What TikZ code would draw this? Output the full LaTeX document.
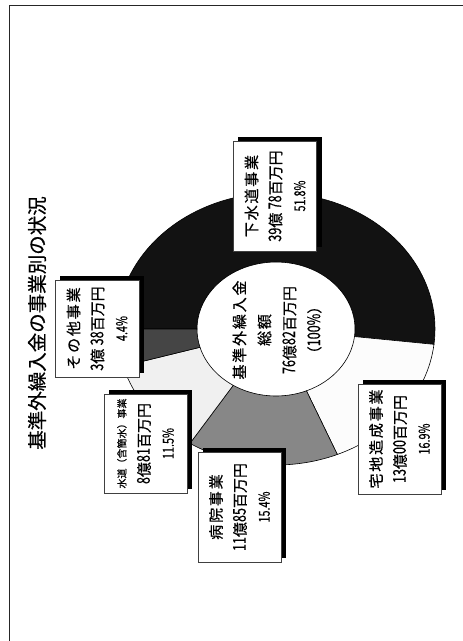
\documentclass[tikz,border=0pt]{standalone}
\usepackage{fontspec}
\setmainfont{Noto Sans CJK JP}[FakeBold=0.5]
\newfontfamily\spfont{Noto Sans CJK JP}[LetterSpace=12, FakeBold=0.5]
\newfontfamily\dgfont{Noto Sans CJK JP}[FakeStretch=0.72, FakeBold=0.4]
\newcommand\dg[1]{{\dgfont\fontsize{17.5}{20}\selectfont #1}}
\newcommand\pc[1]{{\dgfont\fontsize{15}{18}\selectfont #1}}
\usetikzlibrary{backgrounds}
\definecolor{cSewer}{gray}{0.07}
\definecolor{cLand}{gray}{0.99}
\definecolor{cHosp}{gray}{0.53}
\definecolor{cWater}{gray}{0.94}
\definecolor{cOther}{gray}{0.27}
\newcommand\donutslice[3]{%
  \filldraw[fill=#3, draw=black, line width=0.6pt]
    ({276+159*cos(#1)},{329+136*sin(#1)})
    arc[start angle=#1, end angle=#2, x radius=159, y radius=136]
    -- ({276+79*cos(#2)},{329+67*sin(#2)})
    arc[start angle=#2, end angle=#1, x radius=79, y radius=67]
    -- cycle;}
\begin{document}
\begin{tikzpicture}[x=1pt,y=-1pt,
  lbl/.style={draw=black!75, line width=0.6pt, fill=white, rotate=90,
    align=center, inner sep=0pt, minimum height=83pt,
    font=\fontsize{15}{24}\selectfont},
  frameline/.style={draw=black!85, line width=1.4pt}]
\useasboundingbox (0,0) rectangle (463,641);
\draw[frameline] (9.5,650) -- (9.5,5.5) -- (470,5.5);

\begin{scope}[on background layer]
  \fill[white] (0,0) rectangle (463,641);
  \donutslice{180}{366.48}{cSewer}
  \donutslice{366.48}{427.32}{cLand}
  \donutslice{427.32}{482.76}{cHosp}
  \donutslice{482.76}{524.16}{cWater}
  \donutslice{524.16}{540}{cOther}
\end{scope}

\node[rotate=90, font=\fontsize{19.5}{22}\selectfont] (title) at (37,323)
  {基準外繰入金の事業別の状況};

\node[rotate=90, align=center, font=\fontsize{15}{25}\selectfont] (total) at (277,330)
  {{\spfont 基準外繰入金}\\{\spfont 総額}\\\dg{76}億\dg{82}百万円\\（\dg{100\%}）};

\node[lbl, minimum width=110pt] (sewer) at (275,196)
  {{\spfont 下水道事業}\\\dg{39}億 \dg{78}百万円\\\pc{51.8\%}};
\node[lbl, minimum width=97pt, minimum height=84pt] (other) at (97,328.5)
  {{\spfont その他事業}\\\dg{3}億 \dg{38}百万円\\\pc{4.4\%}};
\node[lbl, minimum width=99pt] (water) at (145.5,443.5)
  {{\fontsize{10}{12}\selectfont 水道（含簡水）事業}\\\dg{8}億\dg{81}百万円\\\pc{11.5\%}};
\node[lbl, minimum width=110pt] (hosp) at (239.5,507)
  {{\spfont 病院事業}\\\dg{11}億\dg{85}百万円\\\pc{15.4\%}};
\node[lbl, minimum width=110pt] (land) at (399.5,439)
  {{\spfont 宅地造成事業}\\\dg{13}億\dg{00}百万円\\\pc{16.9\%}};

\begin{scope}[on background layer]
  \foreach \n in {sewer,other,water,hosp,land}
    \fill[black] ([shift={(5,-4)}]\n.south west) rectangle ([shift={(5,-4)}]\n.north east);
\end{scope}
\end{tikzpicture}
\end{document}
